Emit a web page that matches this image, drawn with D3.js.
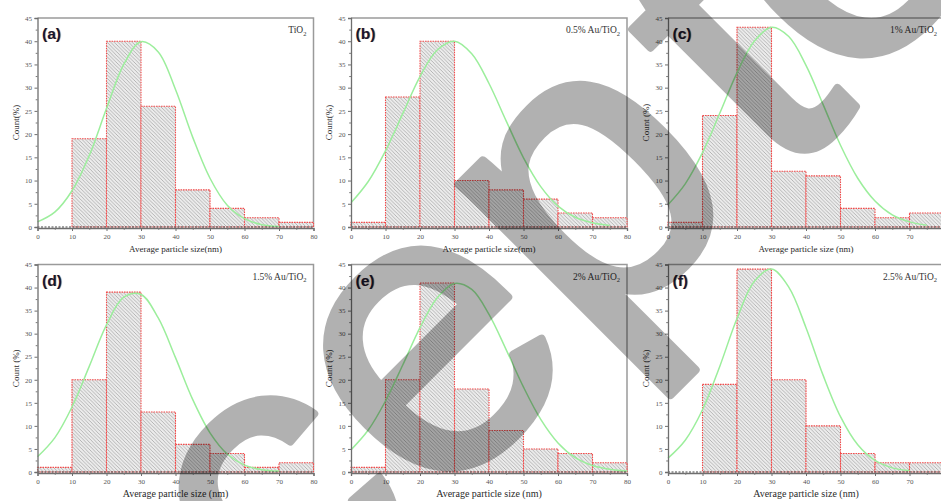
<!DOCTYPE html>
<html>
<head>
<meta charset="utf-8">
<script src="https://cdn.jsdelivr.net/npm/d3@7"></script>
<style>
  body { margin: 0; background: #fff; }
  svg { display: block; }
</style>
</head>
<body>
<svg id="fig" width="941" height="501"></svg>
<script>
// Histogram bins (nm) and tick values
const binStart = [0, 10, 20, 30, 40, 50, 60, 70];
const binWidth = 10;
const xTicks = [0, 10, 20, 30, 40, 50, 60, 70, 80];
const xMinor = [5, 15, 25, 35, 45, 55, 65, 75];
const yTicks = [0, 5, 10, 15, 20, 25, 30, 35, 40, 45];
const yMinor = [2.5, 7.5, 12.5, 17.5, 22.5, 27.5, 32.5, 37.5, 42.5];

// Particle size distributions, count (%) per 10 nm bin
const countTiO2 = [0, 19, 40, 26, 8, 4, 2, 1];
const countAu05 = [1, 28, 40, 10, 8, 6, 3, 2];
const countAu10 = [1, 24, 43, 12, 11, 4, 2, 3];
const countAu15 = [1, 20, 39, 13, 6, 4, 1, 2];
const countAu20 = [1, 20, 41, 18, 9, 5, 4, 2];
const countAu25 = [0, 19, 44, 20, 10, 4, 2, 2];

// Normal-fit curves, sampled every 5 nm from 0 nm
const fitSize = [0, 5, 10, 15, 20, 25, 30, 35, 40, 45, 50, 55, 60, 65, 70, 75, 80];
const fitTiO2 = [1.1, 3.2, 7.8, 15.4, 25.5, 35.0, 39.9, 37.7, 29.6, 19.3, 10.5, 4.7, 1.8, 0.5, 0.1];
const fitAu05 = [5.2, 9.8, 16.4, 24.4, 32.4, 38.1, 40.0, 37.3, 30.9, 22.8, 14.9, 8.7, 4.5, 2.1, 0.9, 0.3];
const fitAu10 = [4.8, 9.3, 16.0, 24.5, 33.2, 40.0, 43.0, 41.0, 34.8, 26.3, 17.6, 10.5, 5.6, 2.6, 1.1, 0.4];
const fitAu15 = [3.3, 7.4, 14.1, 22.9, 31.9, 37.9, 38.5, 33.4, 24.8, 15.7, 8.5, 3.9, 1.5, 0.5, 0.2];
const fitAu20 = [4.8, 9.1, 15.4, 23.2, 31.3, 37.8, 40.9, 39.6, 34.2, 26.5, 18.4, 11.4, 6.3, 3.1, 1.4, 0.6, 0.2];
const fitAu25 = [3.0, 6.9, 13.5, 22.9, 33.3, 41.3, 44.0, 40.1, 31.3, 20.9, 12.0, 5.9, 2.5, 0.9, 0.3];

// Panel texts
const panelLetters = ["(a)", "(b)", "(c)", "(d)", "(e)", "(f)"];
const sampleNames = ["TiO", "0.5% Au/TiO", "1% Au/TiO", "1.5% Au/TiO", "2% Au/TiO", "2.5% Au/TiO"];
const xTitles = ["Average particle size(nm)", "Average particle size(nm)", "Average particle size (nm)",
                 "Average particle size (nm)", "Average particle size (nm)", "Average particle size (nm)"];
const yTitles = ["Count(%)", "Count(%)", "Count (%)", "Count (%)", "Count (%)", "Count (%)"];

const counts = [countTiO2, countAu05, countAu10, countAu15, countAu20, countAu25];
const fits = [fitTiO2, fitAu05, fitAu10, fitAu15, fitAu20, fitAu25];

// Grid layout
const pageW = 941;
const colLeft = [37.5, 351, 668];
const rowTop = [18, 264.5];
const rowHeight = [209, 207.5];
const plotW = 276;

const serif = "'Liberation Serif', 'Times New Roman', serif";
const sans = "'Liberation Sans', Arial, sans-serif";

const svg = d3.select("#fig");
const defs = svg.append("defs");
const hs = 3.6;
const pat = defs.append("pattern")
  .attr("id", "hatch").attr("patternUnits", "userSpaceOnUse")
  .attr("width", hs).attr("height", hs);
pat.append("rect").attr("width", hs).attr("height", hs).attr("fill", "#ececec");
pat.append("path")
  .attr("d", `M${-hs/4},${-hs/4}L${hs*1.25},${hs*1.25}M${hs*0.75},${-hs/4}L${hs*1.25},${hs/4}M${-hs/4},${hs*0.75}L${hs/4},${hs*1.25}`)
  .attr("stroke", "#979797").attr("stroke-width", 0.65);

panelLetters.forEach((letter, p) => {
  const col = p % 3, row = Math.floor(p / 3);
  const L = colLeft[col], T = rowTop[row], H = rowHeight[row];
  const R = L + plotW, B = T + H;
  const x = d3.scaleLinear().domain([0, 80]).range([L, R]);
  const y = d3.scaleLinear().domain([0, 45]).range([B, T]);
  const g = svg.append("g");

  // frame (top and right)
  g.append("path")
    .attr("d", `M${L},${T}H${R}V${B}`)
    .attr("fill", "none").attr("stroke", "#9a9a9a").attr("stroke-width", 1.5);

  // bars
  const bars = binStart.map((s, i) => ({ s, v: counts[p][i] })).filter(d => d.v > 0);
  g.selectAll("rect.bar").data(bars).join("rect")
    .attr("class", "bar")
    .attr("x", d => x(d.s)).attr("width", d => x(d.s + binWidth) - x(d.s))
    .attr("y", d => y(d.v)).attr("height", d => y(0) - y(d.v))
    .attr("fill", "url(#hatch)")
    .attr("stroke", "#f24b4b").attr("stroke-width", 1.1)
    .attr("stroke-dasharray", "1.6,0.9");

  // fit curve
  const fitPts = fits[p].map((v, i) => [fitSize[i], v]);
  g.append("path")
    .attr("d", d3.line().x(d => x(d[0])).y(d => y(d[1])).curve(d3.curveCatmullRom.alpha(0.5))(fitPts))
    .attr("fill", "none").attr("stroke", "#9cee9c").attr("stroke-width", 1.5);

  // dashed baseline at zero
  g.append("line")
    .attr("x1", x(0)).attr("x2", x(80)).attr("y1", y(0)).attr("y2", y(0))
    .attr("stroke", "#444").attr("stroke-width", 1).attr("stroke-dasharray", "2,1.5");

  // axes; tick labels that fall past the page edge are left out
  const styleAxis = sel => {
    sel.select(".domain").attr("stroke", "#6e6e6e").attr("stroke-width", 1.3);
    sel.selectAll(".tick line").attr("stroke", "#6e6e6e");
    sel.selectAll(".tick text").attr("fill", "#555").attr("font-family", serif).attr("font-size", 7);
  };
  const xAxis = g.append("g").attr("transform", `translate(0,${B + 1})`)
    .call(d3.axisBottom(x).tickValues(xTicks.filter(t => x(t) < pageW - 6))
      .tickSize(3).tickPadding(3).tickFormat(d3.format("d")));
  styleAxis(xAxis);
  g.append("g").attr("transform", `translate(0,${B + 1})`)
    .call(d3.axisBottom(x).tickValues(xMinor).tickSize(1.8).tickFormat(""))
    .call(s => { s.select(".domain").remove(); s.selectAll("line").attr("stroke", "#777"); });

  const yAxis = g.append("g").attr("transform", `translate(${L},0)`)
    .call(d3.axisLeft(y).tickValues(yTicks).tickSize(3).tickPadding(2.5).tickFormat(d3.format("d")));
  styleAxis(yAxis);
  g.append("g").attr("transform", `translate(${L},0)`)
    .call(d3.axisLeft(y).tickValues(yMinor).tickSize(1.8).tickFormat(""))
    .call(s => { s.select(".domain").remove(); s.selectAll("line").attr("stroke", "#777"); });

  // axis titles
  g.append("text")
    .attr("x", (L + R) / 2).attr("y", B + 24.5)
    .attr("text-anchor", "middle").attr("font-family", serif)
    .attr("font-size", row === 0 ? 9 : 10).attr("fill", "#2a2a2a")
    .text(xTitles[p]);
  g.append("text")
    .attr("transform", `translate(${L - 21},${(T + B) / 2}) rotate(-90)`)
    .attr("text-anchor", "middle").attr("dominant-baseline", "middle")
    .attr("font-family", serif).attr("font-size", 9).attr("fill", "#2a2a2a")
    .text(yTitles[p]);

  // panel letter with a faint warm fringe
  g.append("text")
    .attr("x", L + 5.3).attr("y", T + 21)
    .attr("font-family", sans).attr("font-weight", "bold").attr("font-size", 15.5)
    .attr("fill", "#d59440").attr("opacity", 0.75)
    .text(letter);
  g.append("text")
    .attr("x", L + 4.5).attr("y", T + 21)
    .attr("font-family", sans).attr("font-weight", "bold").attr("font-size", 15.5)
    .attr("fill", "#151535")
    .text(letter);

  // sample name with subscript
  const st = g.append("text")
    .attr("x", R - 7).attr("y", T + 15)
    .attr("text-anchor", "end").attr("font-family", serif).attr("font-size", 9.5).attr("fill", "#333");
  st.append("tspan").text(sampleNames[p]);
  st.append("tspan").attr("font-size", 6.5).attr("dy", 2.5).text("2");
});

// translucent diagonal stamp across the figure
const stamp = svg.append("g").attr("opacity", 0.3);
const stampText = stamp.append("text")
  .attr("transform", "translate(-46.7,993.1) rotate(-45)")
  .attr("font-family", sans).attr("font-size", 406)
  .attr("fill", "#000").attr("stroke", "#000").attr("stroke-width", 8).attr("stroke-linejoin", "round");
stampText.append("tspan").text("Accep");
stampText.append("tspan").attr("dx", 27).attr("dy", 13).text("t");
stampText.append("tspan").attr("dx", -7).attr("dy", -13).text("ed");
</script>
</body>
</html>
